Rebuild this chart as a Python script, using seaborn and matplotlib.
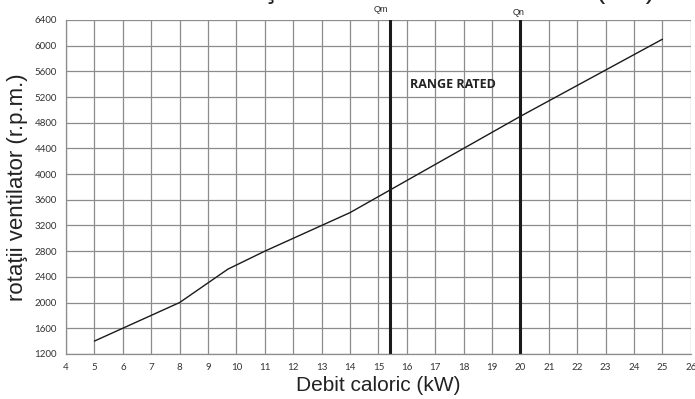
import matplotlib.pyplot as plt
import seaborn as sns
import pandas as pd

# data
debit = [5, 6, 7, 8, 9.7, 11, 12, 14, 20, 25]
rotatii = [1400, 1600, 1800, 2000, 2520, 2800, 3000, 3400, 4900, 6100]
q_min = 15.4
q_nom = 20
x_ticks = list(range(4, 27))
y_ticks = list(range(1200, 6401, 400))

df = pd.DataFrame({'debit': debit, 'rotatii': rotatii})

sns.set_style('white')
plt.rcParams['font.family'] = ['Lato', 'DejaVu Sans']

fig = plt.figure(figsize=(6.95, 3.99), dpi=100)
ax = fig.add_axes([0.095, 0.113, 0.899, 0.837])

sns.lineplot(data=df, x='debit', y='rotatii', color='#1a1a1a', linewidth=1.0, ax=ax)

# Qm / Qn
ax.axvline(q_min, color='#1a1a1a', linewidth=2.2)
ax.axvline(q_nom, color='#1a1a1a', linewidth=2.2)
ax.text(q_min - 0.3, 6500, 'Qm', fontsize=6.5, ha='center', va='bottom', family=['Liberation Sans'])
ax.text(q_nom - 0.05, 6440, 'Qn', fontsize=6.5, ha='center', va='bottom', family=['Liberation Sans'])
ax.text(16.1, 5400, 'RANGE RATED', fontsize=9, fontweight='bold', color='#222222',
        ha='left', va='center', family=['Open Sans'])

ax.set_xlim(4, 26)
ax.set_ylim(1200, 6400)
ax.set_xticks(x_ticks)
ax.set_yticks(y_ticks)
ax.tick_params(labelsize=7, colors='#333333', length=3, width=0.8, color='#8c8c8c')
ax.grid(True, color='#8c8c8c', linewidth=0.9)
for s in ['top', 'right']:
    ax.spines[s].set_visible(False)
for s in ['left', 'bottom']:
    ax.spines[s].set_color('#8c8c8c')
    ax.spines[s].set_linewidth(0.9)

ax.set_xlabel('Debit caloric (kW)', fontsize=15, family=['Liberation Sans'], color='#222222', labelpad=3)
ax.set_ylabel('rotaţii ventilator (r.p.m.)', fontsize=16, family=['Liberation Sans'], color='#222222', labelpad=5)

# title sits above the visible area, only its bottom edge shows
fig.text(0.943, 1.004, 'Turaţie ventilator - debit caloric (kW)', fontsize=20,
         family=['Liberation Sans'], ha='right', va='baseline', color='#222222')

fig.savefig('out.png', dpi=100)
